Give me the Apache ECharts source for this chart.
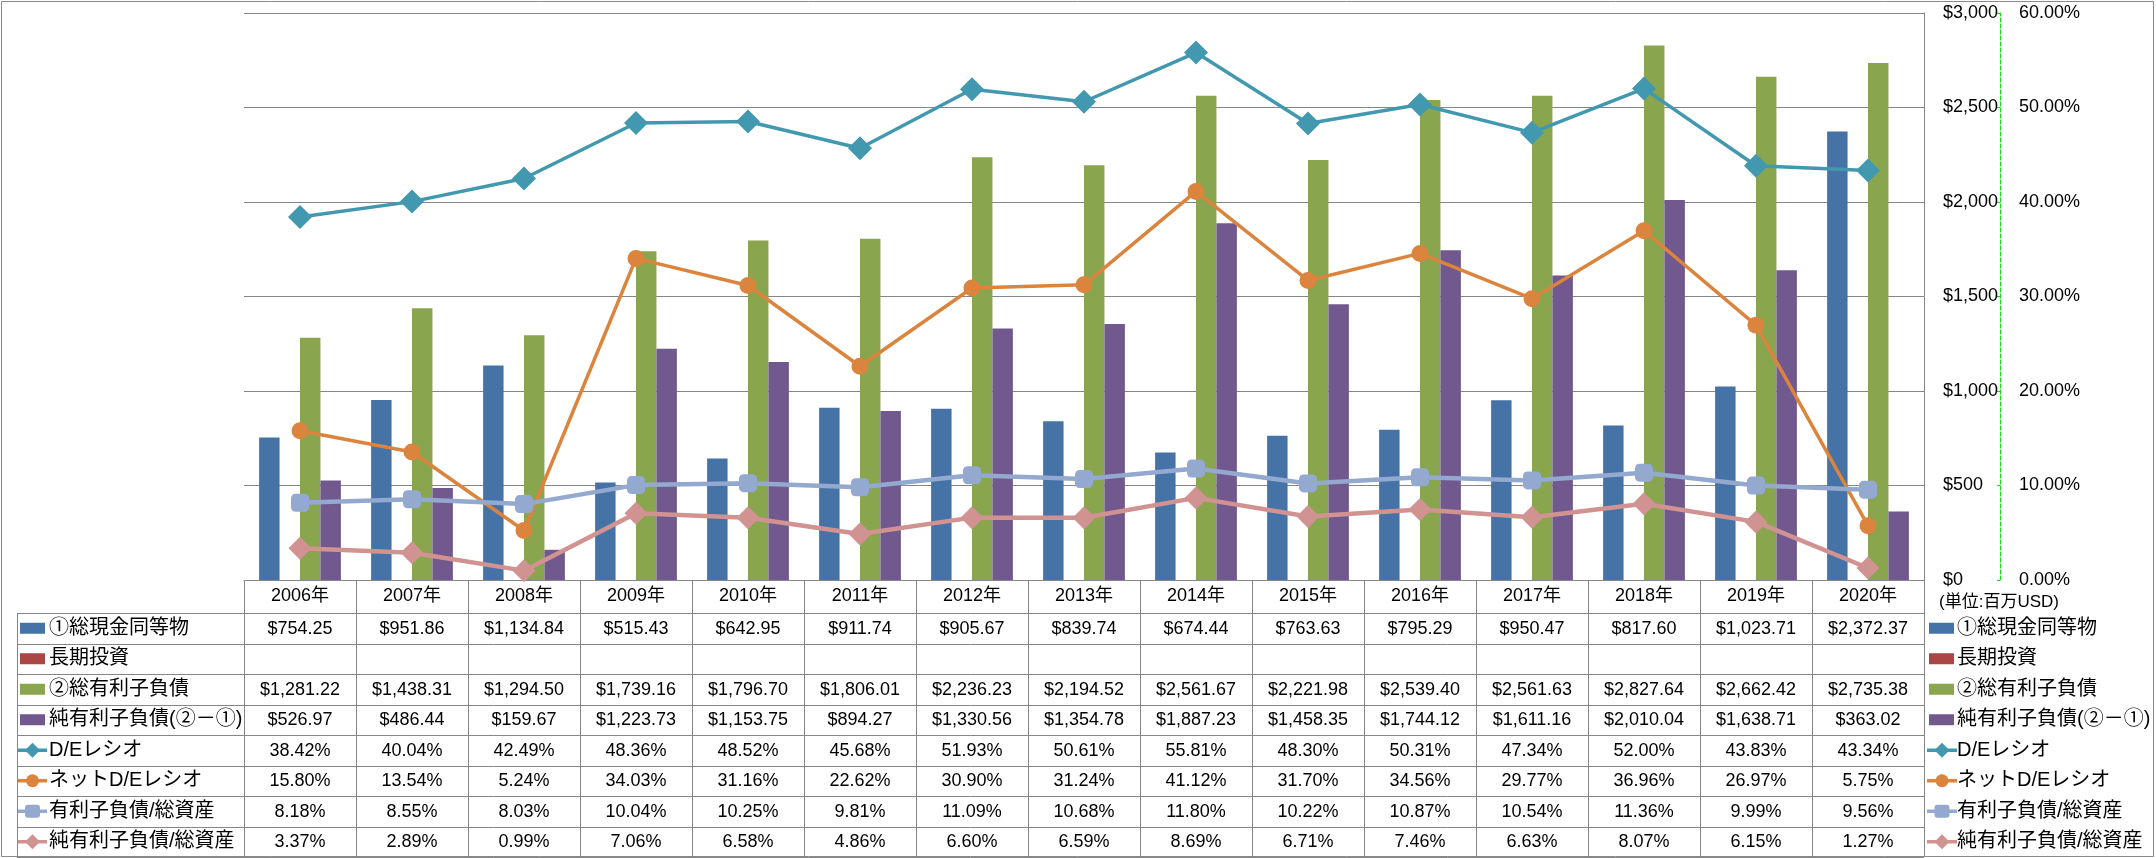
<!DOCTYPE html>
<html>
<head>
<meta charset="utf-8">
<script src="https://cdn.jsdelivr.net/npm/echarts@6/dist/echarts.min.js"></script>
<style>
html,body{margin:0;padding:0;background:#fff;}
#c{width:2156px;height:858px;}
</style>
</head>
<body>
<div id="c"></div>
<script>
// ---------------- data ----------------
const years = ['2006年','2007年','2008年','2009年','2010年','2011年','2012年','2013年','2014年','2015年','2016年','2017年','2018年','2019年','2020年'];
const cash = [754.25, 951.86, 1134.84, 515.43, 642.95, 911.74, 905.67, 839.74, 674.44, 763.63, 795.29, 950.47, 817.60, 1023.71, 2372.37];
const longInvest = [null, null, null, null, null, null, null, null, null, null, null, null, null, null, null];
const totalDebt = [1281.22, 1438.31, 1294.50, 1739.16, 1796.70, 1806.01, 2236.23, 2194.52, 2561.67, 2221.98, 2539.40, 2561.63, 2827.64, 2662.42, 2735.38];
const netDebt = [526.97, 486.44, 159.67, 1223.73, 1153.75, 894.27, 1330.56, 1354.78, 1887.23, 1458.35, 1744.12, 1611.16, 2010.04, 1638.71, 363.02];
const deRatio = [38.42, 40.04, 42.49, 48.36, 48.52, 45.68, 51.93, 50.61, 55.81, 48.30, 50.31, 47.34, 52.00, 43.83, 43.34];
const netDeRatio = [15.80, 13.54, 5.24, 34.03, 31.16, 22.62, 30.90, 31.24, 41.12, 31.70, 34.56, 29.77, 36.96, 26.97, 5.75];
const debtToAssets = [8.18, 8.55, 8.03, 10.04, 10.25, 9.81, 11.09, 10.68, 11.80, 10.22, 10.87, 10.54, 11.36, 9.99, 9.56];
const netDebtToAssets = [3.37, 2.89, 0.99, 7.06, 6.58, 4.86, 6.60, 6.59, 8.69, 6.71, 7.46, 6.63, 8.07, 6.15, 1.27];
const moneyAxis = {min: 0, max: 3000, interval: 500};
const pctAxis = {min: 0, max: 60, interval: 10};
const unitNote = '(単位:百万USD)';

// ---------------- styling ----------------
const LATIN = '"Liberation Sans", "Noto Sans CJK JP", sans-serif';
const GRID_COLOR = '#868686';
const rows = [
  {name: '①総現金同等物', kind: 'bar', color: '#4572A7', data: cash, unit: '$'},
  {name: '長期投資', kind: 'bar', color: '#AA4643', data: longInvest, unit: '$'},
  {name: '②総有利子負債', kind: 'bar', color: '#89A54E', data: totalDebt, unit: '$'},
  {name: '純有利子負債(②－①)', kind: 'bar', color: '#71588F', data: netDebt, unit: '$'},
  {name: 'D/Eレシオ', kind: 'line', color: '#4198AF', data: deRatio, unit: '%', symbol: 'diamond', size: 24, width: 3.5},
  {name: 'ネットD/Eレシオ', kind: 'line', color: '#DB843D', data: netDeRatio, unit: '%', symbol: 'circle', size: 17, width: 3.5},
  {name: '有利子負債/総資産', kind: 'line', color: '#93A9CF', data: debtToAssets, unit: '%', symbol: 'roundRect', size: 18, width: 4.5},
  {name: '純有利子負債/総資産', kind: 'line', color: '#D19392', data: netDebtToAssets, unit: '%', symbol: 'diamond', size: 23, width: 4.5}
];

function fmtMoney(v) {
  return '$' + v.toLocaleString('en-US', {minimumFractionDigits: 2, maximumFractionDigits: 2});
}
function fmtPct(v) { return v.toFixed(2) + '%'; }

const GRID = {left: 244, right: 232, top: 13, bottom: 278};
const TABLE = {left: 17, headerTop: 580, headerH: 33, rowH: 30.5};

const series = rows.map(r => {
  if (r.kind === 'bar') {
    return {
      name: r.name, type: 'bar', data: r.data, yAxisIndex: 0,
      barGap: '0%', barCategoryGap: '27%',
      itemStyle: {color: r.color}, z: 2
    };
  }
  return {
    name: r.name, type: 'line', data: r.data, yAxisIndex: 1,
    symbol: r.symbol, symbolSize: r.size, showAllSymbol: true,
    lineStyle: {color: r.color, width: r.width},
    itemStyle: {color: r.color},
    z: 3
  };
});

const chart = echarts.init(document.getElementById('c'), null, {renderer: 'canvas'});
const option = {
  animation: false,
  backgroundColor: '#ffffff',
  grid: Object.assign({outerBoundsMode: 'none', containLabel: false}, GRID),
  xAxis: {
    type: 'category', data: years, boundaryGap: true,
    axisLine: {show: true, lineStyle: {color: GRID_COLOR, width: 1}},
    axisTick: {show: true, length: 277, lineStyle: {color: GRID_COLOR, width: 1}},
    axisLabel: {color: '#000', fontSize: 18, fontFamily: LATIN, margin: 7.5, lineHeight: 18, interval: 0},
    splitLine: {show: false}
  },
  yAxis: [
    {
      type: 'value', position: 'right', min: moneyAxis.min, max: moneyAxis.max, interval: moneyAxis.interval,
      axisLine: {show: true, lineStyle: {color: GRID_COLOR, width: 1}},
      axisTick: {show: false},
      axisLabel: {color: '#000', fontSize: 18, fontFamily: LATIN, margin: 19,
        formatter: v => '$' + v.toLocaleString('en-US')},
      splitLine: {show: true, lineStyle: {color: GRID_COLOR, width: 1}}
    },
    {
      type: 'value', position: 'right', offset: 76, min: pctAxis.min, max: pctAxis.max, interval: pctAxis.interval,
      axisLine: {show: true, lineStyle: {color: '#11DD11', width: 1, type: [4, 2]}},
      axisTick: {show: true, inside: true, length: 3, lineStyle: {color: '#11DD11', width: 1}},
      axisLabel: {color: '#000', fontSize: 18, fontFamily: LATIN, margin: 19,
        formatter: v => v.toFixed(2) + '%'},
      splitLine: {show: false}
    }
  ],
  series: series
};
chart.setOption(option);

// ---------------- data table + legend (graphic) ----------------
const centers = years.map(y => chart.convertToPixel({xAxisIndex: 0}, y));
const gridRight = 2156 - GRID.right;
const els = [];
// outer border
els.push({type: 'rect', shape: {x: 1.5, y: 1.5, width: 2152, height: 855},
  style: {fill: null, stroke: '#8a8a8a', lineWidth: 1}, silent: true, z: 0});

const rowTop = i => TABLE.headerTop + TABLE.headerH + i * TABLE.rowH;
// horizontal lines
for (let i = 0; i <= rows.length; i++) {
  const y = Math.round(rowTop(i)) + 0.5;
  els.push({type: 'line', shape: {x1: TABLE.left, y1: y, x2: gridRight, y2: y},
    style: {stroke: GRID_COLOR, lineWidth: 1}, silent: true, z: 5});
}
// left border of label column
els.push({type: 'line', shape: {x1: TABLE.left + 0.5, y1: rowTop(0), x2: TABLE.left + 0.5, y2: rowTop(rows.length)},
  style: {stroke: GRID_COLOR, lineWidth: 1}, silent: true, z: 5});

function addKey(r, cx, cy, lineX1, lineX2, rectX, small) {
  if (r.kind === 'bar') {
    els.push({type: 'rect', shape: {x: rectX, y: cy - 5.5, width: 25, height: 11},
      style: {fill: r.color}, silent: true, z: 6});
    return;
  }
  els.push({type: 'line', shape: {x1: lineX1, y1: cy, x2: lineX2, y2: cy},
    style: {stroke: r.color, lineWidth: 3.5}, silent: true, z: 6});
  const s = small;
  if (r.symbol === 'diamond') {
    els.push({type: 'polygon', shape: {points: [[cx, cy - s / 2], [cx + s / 2, cy], [cx, cy + s / 2], [cx - s / 2, cy]]},
      style: {fill: r.color}, silent: true, z: 7});
  } else if (r.symbol === 'circle') {
    els.push({type: 'circle', shape: {cx: cx, cy: cy, r: s / 2 - 1},
      style: {fill: r.color}, silent: true, z: 7});
  } else {
    els.push({type: 'rect', shape: {x: cx - s / 2, y: cy - s / 2 + 1, width: s, height: s - 2, r: 3},
      style: {fill: r.color}, silent: true, z: 7});
  }
}

rows.forEach((r, i) => {
  const cy = rowTop(i) + TABLE.rowH / 2;
  // left label column
  addKey(r, 32.5, cy, 18, 47, 20, 15);
  els.push({type: 'text', x: 49, y: cy,
    style: {text: r.name, fontSize: 20, fontFamily: LATIN, fill: '#000', align: 'left', verticalAlign: 'middle'},
    silent: true, z: 6});
  // values
  r.data.forEach((v, j) => {
    if (v === null || v === undefined) return;
    els.push({type: 'text', x: centers[j], y: cy + 0.5,
      style: {text: r.unit === '$' ? fmtMoney(v) : fmtPct(v), fontSize: 18, fontFamily: LATIN, fill: '#000',
        align: 'center', verticalAlign: 'middle'},
      silent: true, z: 6});
  });
  // right legend
  addKey(r, 1942, cy, 1927, 1957, 1929, 15);
  els.push({type: 'text', x: 1957, y: cy,
    style: {text: r.name, fontSize: 20, fontFamily: LATIN, fill: '#000', align: 'left', verticalAlign: 'middle'},
    silent: true, z: 6});
});

els.push({type: 'text', x: 1939, y: 602,
  style: {text: unitNote, fontSize: 17, fontFamily: LATIN, fill: '#000', align: 'left', verticalAlign: 'middle'},
  silent: true, z: 6});

chart.setOption({graphic: {elements: els}});
</script>
</body>
</html>
